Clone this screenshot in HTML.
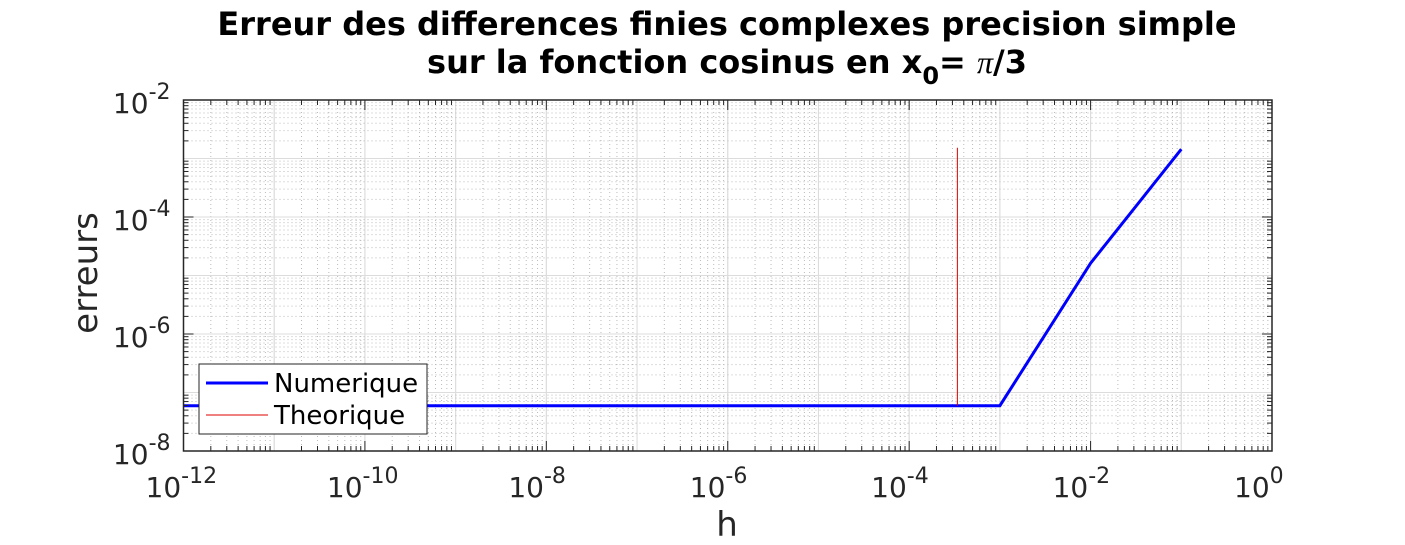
<!DOCTYPE html>
<html><head><meta charset="utf-8">
<style>
html,body{margin:0;padding:0;background:#fff;}
svg{display:block;font-family:"DejaVu Sans","Liberation Sans",sans-serif;}
</style></head>
<body>
<svg id="chart" width="1405" height="545" viewBox="0 0 1405 545" xmlns="http://www.w3.org/2000/svg">
<rect width="1405" height="545" fill="#fff"/>
<g id="grid"></g>
<g id="series"></g>
<g id="axes"></g>
<text x="727" y="35" text-anchor="middle" font-size="32" font-weight="bold" fill="#000">Erreur des differences finies complexes precision simple</text>
<text x="727" y="73" text-anchor="middle" font-size="32" font-weight="bold" fill="#000">sur la fonction cosinus en x<tspan font-size="24" dy="11">0</tspan><tspan dy="-11">= </tspan><tspan font-style="italic" font-weight="normal" font-family="Liberation Serif,serif">π</tspan>/3</text>
<text x="727" y="536" text-anchor="middle" font-size="34" fill="#262626">h</text>
<text transform="translate(97,273) rotate(-90)" text-anchor="middle" font-size="34" fill="#262626">erreurs</text>
<g>
<rect x="199" y="364" width="228" height="70" fill="#fff" stroke="#262626" stroke-width="1"/>
<line x1="206" y1="383" x2="268" y2="383" stroke="#0000ff" stroke-width="3"/>
<text x="274" y="392" font-size="26" fill="#000">Numerique</text>
<line x1="206" y1="415" x2="268" y2="415" stroke="#dd0000" stroke-width="1"/>
<text x="274" y="424" font-size="26" fill="#000">Theorique</text>
</g>
</svg>
<script>
const hValues = [1e-12, 1e-3, 1e-2, 1e-1];
const numErrors = [5.94e-8, 5.94e-8, 1.62e-5, 1.44e-3];
const theoH = [3.4e-4, 3.4e-4];
const theoErrors = [5.94e-8, 1.53e-3];
const xTickExps = [-12, -10, -8, -6, -4, -2, 0];
const yTickExps = [-8, -6, -4, -2];

const L=183.5, R=1272, T=100, B=451;
const xMin=-12, xMax=0, yMin=-8, yMax=-2;
const sx = v => L + (Math.log10(v)-xMin)/(xMax-xMin)*(R-L);
const sy = v => B - (Math.log10(v)-yMin)/(yMax-yMin)*(B-T);
const NS="http://www.w3.org/2000/svg";
function mk(tag, attrs, parent){const e=document.createElementNS(NS,tag);for(const k in attrs)e.setAttribute(k,attrs[k]);parent.appendChild(e);return e;}
const grid=document.getElementById('grid'), axes=document.getElementById('axes'), series=document.getElementById('series');

for(let d=xMin; d<xMax; d++){
  for(let m=1;m<=10;m++){
    const x=sx(m*Math.pow(10,d));
    if(m===1||m===10){
      const g=mk('line',{x1:x,y1:T,x2:x,y2:B,stroke:'#dcdcdc','stroke-width':1},grid);
      
      
    } else {
      const g=mk('line',{x1:x,y1:T,x2:x,y2:B,stroke:'#bbb','stroke-width':1,'stroke-dasharray':'1,3'},grid);
      
      
      mk('line',{x1:x,y1:B,x2:x,y2:B-5,stroke:'#262626'},axes);
      mk('line',{x1:x,y1:T,x2:x,y2:T+5,stroke:'#262626'},axes);
    }
  }
}
for(let d=yMin; d<yMax; d++){
  for(let m=1;m<=10;m++){
    const y=sy(m*Math.pow(10,d));
    if(m===1||m===10){
      const g=mk('line',{x1:L,y1:y,x2:R,y2:y,stroke:'#dcdcdc','stroke-width':1},grid);
      
      
    } else {
      const g=mk('line',{x1:L,y1:y,x2:R,y2:y,stroke:'#bbb','stroke-width':1,'stroke-dasharray':'1,3'},grid);
      
      
      mk('line',{x1:L,y1:y,x2:L+5,y2:y,stroke:'#262626'},axes);
      mk('line',{x1:R,y1:y,x2:R-5,y2:y,stroke:'#262626'},axes);
    }
  }
}
const box=mk('rect',{x:L,y:T,width:R-L,height:B-T,fill:'none',stroke:'#262626','stroke-width':1.5},axes);



xTickExps.forEach(e=>{
  const x=sx(Math.pow(10,e));
  mk('line',{x1:x,y1:B,x2:x,y2:B-10,stroke:'#262626'},axes);
  mk('line',{x1:x,y1:T,x2:x,y2:T+10,stroke:'#262626'},axes);
  const t=mk('text',{x:x-38,y:497,'font-size':28,fill:'#262626'},axes);
  
  
  t.innerHTML='10<tspan font-size="22" dy="-14">'+e+'</tspan>';
});
yTickExps.forEach(e=>{
  const y=sy(Math.pow(10,e));
  mk('line',{x1:L,y1:y,x2:L+10,y2:y,stroke:'#262626'},axes);
  mk('line',{x1:R,y1:y,x2:R-10,y2:y,stroke:'#262626'},axes);
  const t=mk('text',{x:L-13,y:y+13,'text-anchor':'end','font-size':28,fill:'#262626'},axes);
  
  
  t.innerHTML='10<tspan font-size="22" dy="-14">'+e+'</tspan>';
});

const p1=mk('polyline',{points:hValues.map((h,i)=>sx(h)+','+sy(numErrors[i])).join(' '),fill:'none',stroke:'#0000ff','stroke-width':3},series);


const p2=mk('polyline',{points:theoH.map((h,i)=>sx(h)+','+sy(theoErrors[i])).join(' '),fill:'none',stroke:'#dd0000','stroke-width':1},series);


</script>
</body></html>
